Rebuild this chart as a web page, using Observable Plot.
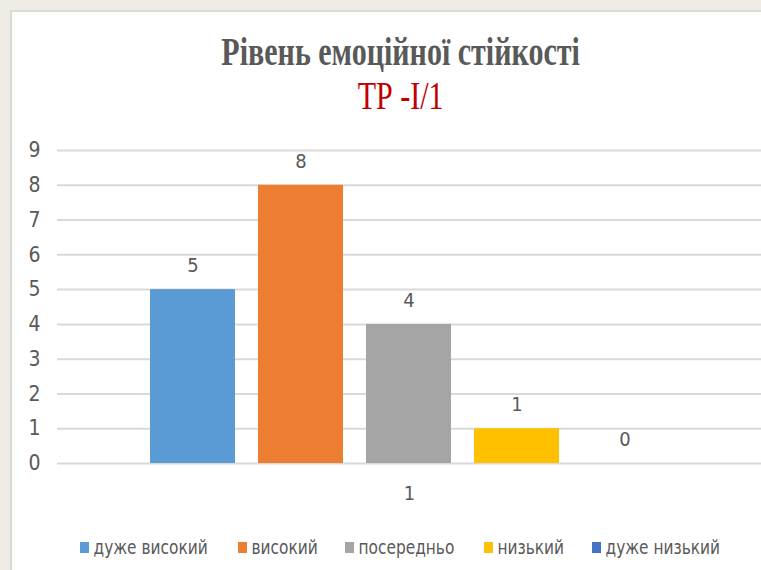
<!DOCTYPE html>
<html>
<head>
<meta charset="utf-8">
<script src="https://cdn.jsdelivr.net/npm/d3@7"></script>
<script src="https://cdn.jsdelivr.net/npm/@observablehq/plot@0.6"></script>
<style>
  html, body { margin: 0; padding: 0; }
  body { width: 761px; height: 570px; background: #efece5; position: relative; overflow: hidden; }
  #panel { position: absolute; left: 10px; top: 10px; width: 760px; height: 570px; background: #fff; border-left: 2px solid #d9d9d9; border-top: 2px solid #d9d9d9; }
  .t { position: absolute; left: 0; width: 801px; text-align: center; font-family: "Liberation Serif", "DejaVu Serif", serif; transform: scaleX(0.77); transform-origin: 401px 0; }
  #t1 { top: 29px; font-size: 39px; font-weight: bold; color: #595959; }
  #t2 { top: 73px; font-size: 39px; color: #c00000; }
  #chart { position: absolute; left: 0; top: 130px; }
  #legend { position: absolute; top: 536px; left: 0; width: 761px; font-family: "DejaVu Sans Condensed", "Liberation Sans", sans-serif; font-size: 19px; color: #595959; }
  .li { position: absolute; white-space: nowrap; display: flex; align-items: center; transform: scaleX(0.9); transform-origin: 0 0; }
  .sw { width: 10px; height: 11px; margin-right: 5px; display: inline-block; }
  svg text { font-family: "DejaVu Sans Condensed", "Liberation Sans", sans-serif; }
</style>
</head>
<body>
<div id="panel"></div>
<div class="t" id="t1">Рівень емоційної стійкості</div>
<div class="t" id="t2">ТР -І/1</div>
<div id="chart"></div>
<div id="legend"></div>
<script>
const series = ["дуже високий", "високий", "посередньо", "низький", "дуже низький"];
const values = [5, 8, 4, 1, 0];
const colors = ["#5b9bd5", "#ed7d31", "#a5a5a5", "#ffc000", "#4472c4"];
const category = "1";
const yTicks = [0, 1, 2, 3, 4, 5, 6, 7, 8, 9];

const data = series.map((s, i) => ({series: s, value: values[i]}));

const plot = Plot.plot({
  width: 761,
  height: 380,
  marginLeft: 57,
  marginRight: 0,
  marginTop: 20,
  marginBottom: 47,
  style: {background: "transparent", color: "#595959", fontSize: "20px"},
  x: {domain: series, range: [138.5, 678.5], paddingInner: 0.213, paddingOuter: 0.1065, axis: null, label: null},
  y: {domain: [0, 9], axis: null, label: null},
  color: {domain: series, range: colors},
  marks: [
    Plot.ruleY(yTicks, {stroke: "#d9d9d9", strokeWidth: 2}),
    Plot.barY(data, {x: "series", y: "value", fill: "series"}),
    Plot.text(data, {x: "series", y: "value", text: d => String(d.value), dy: -24, fill: "#595959", fontSize: 20}),
    Plot.axisY(yTicks, {tickSize: 0, tickPadding: 17, fontSize: 21, fill: "#595959", label: null}),
    Plot.text([category], {frameAnchor: "bottom", dy: 36, fill: "#595959", fontSize: 20})
  ]
});
document.getElementById("chart").appendChild(plot);

const lefts = [80, 238, 345, 484, 592];
const legend = document.getElementById("legend");
series.forEach((s, i) => {
  const el = document.createElement("div");
  el.className = "li";
  el.style.left = lefts[i] + "px";
  el.innerHTML = `<span class="sw" style="background:${colors[i]}"></span><span>${s}</span>`;
  legend.appendChild(el);
});
</script>
</body>
</html>
